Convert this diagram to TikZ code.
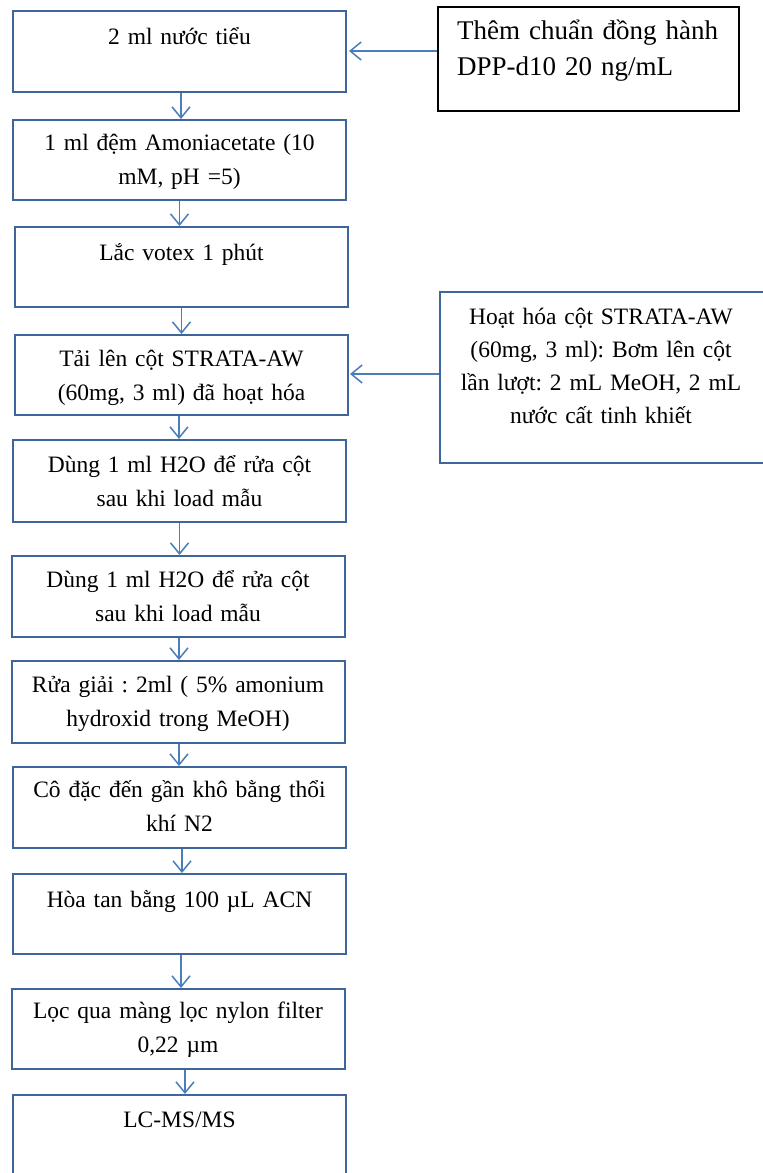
\documentclass[tikz,border=0pt]{standalone}
\usepackage{fontspec}
\setmainfont{Liberation Serif}
\usetikzlibrary{arrows.meta}
\definecolor{boxblue}{HTML}{3F659B}
\definecolor{arrblue}{HTML}{4A7EBB}
\frenchspacing
\tikzset{
  box/.style={draw=boxblue, line width=2pt, inner sep=0pt, minimum width=333pt},
  blackbox/.style={draw=black, line width=2pt, inner sep=0pt},
  txt/.style={font=\fontsize{23.5}{34}\selectfont, align=center, text width=340pt, inner sep=0pt, anchor=base},
  arr/.style={draw=arrblue, line width=1.5pt, -{Straight Barb[length=11pt,width=18pt]}},
}
\begin{document}
\begin{tikzpicture}[x=1pt,y=-1pt]
\useasboundingbox (0,0) rectangle (763,1173);
\clip (0,0) rectangle (763,1173);
\fill[white] (0,0) rectangle (763,1173);
% left column boxes
\node[box, minimum height=81pt] (b1) at (179.5,51.5) {};
\node[box, minimum height=80pt] (b2) at (179.5,160) {};
\node[box, minimum height=80pt] (b3) at (181.5,267) {};
\node[box, minimum height=80pt] (b4) at (181.5,375) {};
\node[box, minimum height=82pt] (b5) at (179.5,481) {};
\node[box, minimum height=81pt] (b6) at (178,596.5) {};
\node[box, minimum height=82pt] (b7) at (178,702) {};
\node[box, minimum height=81pt] (b8) at (179.5,807.5) {};
\node[box, minimum height=80pt] (b9) at (179.5,914) {};
\node[box, minimum height=80pt] (b10) at (178,1029) {};
\node[box, minimum height=85pt] (b11) at (179.5,1137.5) {};
% right boxes
\node[blackbox, minimum width=301pt, minimum height=104pt] (r1) at (588.5,59) {};
\node[box, minimum width=332pt, minimum height=171pt] (r2) at (606,377.5) {};
% texts
\node[txt] (t1) at ([yshift=-34pt]b1.north) {2 ml nước tiểu};
\node[txt] (t2) at ([yshift=-31pt]b2.north) {1 ml đệm Amoniacetate (10\\mM, pH =5)};
\node[txt] (t3) at ([yshift=-34pt]b3.north) {Lắc votex 1 phút};
\node[txt] (t4) at ([yshift=-32pt]b4.north) {Tải lên cột STRATA-AW\\(60mg, 3 ml) đã hoạt hóa};
\node[txt] (t5) at ([yshift=-33pt]b5.north) {Dùng 1 ml H2O để rửa cột\\sau khi load mẫu};
\node[txt] (t6) at ([yshift=-32pt]b6.north) {Dùng 1 ml H2O để rửa cột\\sau khi load mẫu};
\node[txt] (t7) at ([yshift=-32pt]b7.north) {Rửa giải : 2ml ( 5\% amonium\\hydroxid trong MeOH)};
\node[txt] (t8) at ([yshift=-31pt]b8.north) {Cô đặc đến gần khô bằng thổi\\khí N2};
\node[txt] (t9) at ([yshift=-34pt]b9.north) {Hòa tan bằng 100 µL ACN};
\node[txt] (t10) at ([yshift=-30pt]b10.north) {Lọc qua màng lọc nylon filter\\0,22 µm};
\node[txt] (t11) at ([yshift=-33pt]b11.north) {LC-MS/MS};
\node[txt, font=\fontsize{27}{36}\selectfont, align=left, text width=290pt, anchor=base west] (tr1) at (457,39) {Thêm chuẩn đồng hành\\DPP-d10 20 ng/mL};
\node[txt, font=\fontsize{23.5}{33}\selectfont] (tr2) at ([xshift=-5pt,yshift=-33pt]r2.north) {Hoạt hóa cột STRATA-AW\\(60mg, 3 ml): Bơm lên cột\\lần lượt: 2 mL MeOH, 2 mL\\nước cất tinh khiết};
% vertical arrows
\draw[arr] ([xshift=1.5pt]b1.south) -- ([xshift=1.5pt]b1.south |- b2.north);
\draw[arr] (b2.south) -- (b2.south |- b3.north);
\draw[arr] (b3.south) -- (b3.south |- b4.north);
\draw[arr] ([xshift=-2.5pt]b4.south) -- ([xshift=-2.5pt]b4.south |- b5.north);
\draw[arr] (b5.south) -- (b5.south |- b6.north);
\draw[arr] ([xshift=1pt]b6.south) -- ([xshift=1pt]b6.south |- b7.north);
\draw[arr] ([xshift=1pt]b7.south) -- ([xshift=1pt]b7.south |- b8.north);
\draw[arr] ([xshift=2.5pt]b8.south) -- ([xshift=2.5pt]b8.south |- b9.north);
\draw[arr] ([xshift=1.5pt]b9.south) -- ([xshift=1.5pt]b9.south |- b10.north);
\draw[arr] ([xshift=7pt]b10.south) -- ([xshift=7pt]b10.south |- b11.north);
% horizontal arrows
\draw[arr, shorten >=2pt] ([yshift=8pt]r1.west) -- ([yshift=8pt]r1.west -| b1.east);
\draw[arr, shorten >=1pt] ([yshift=3.5pt]r2.west) -- ([yshift=3.5pt]r2.west -| b4.east);
\end{tikzpicture}
\end{document}
